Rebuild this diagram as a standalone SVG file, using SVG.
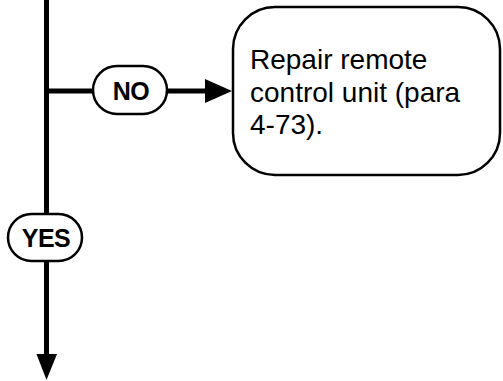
<svg xmlns="http://www.w3.org/2000/svg" width="503" height="381" viewBox="0 0 503 381">
<style>
.ln{stroke:#000;stroke-width:5;fill:none}
.pill{fill:#fff;stroke:#000;stroke-width:2.5}
.box{fill:#fff;stroke:#000;stroke-width:2.5}
.lbl{font-family:"Liberation Sans",Arial,sans-serif;font-weight:bold;font-size:25px;text-anchor:middle;fill:#000;letter-spacing:-0.5px}
.txt{font-family:"Liberation Sans",Arial,sans-serif;font-size:28px;fill:#000}
</style>
<rect width="503" height="381" fill="#fff"/>
<g id="connectors">
<line class="ln" x1="46.5" y1="0" x2="46.5" y2="356"/>
<polygon points="36.5,354 57,354 46.5,380" fill="#000"/>
<line class="ln" x1="46" y1="91" x2="207" y2="91"/>
<polygon points="205,79 232,91 205,103" fill="#000"/>
</g>
<g id="no">
<rect class="pill" x="93" y="66" width="74" height="48" rx="24"/>
<text class="lbl" x="131" y="100">NO</text>
</g>
<g id="yes">
<rect class="pill" x="8" y="214" width="74" height="47" rx="23.5"/>
<text class="lbl" x="46" y="247">YES</text>
</g>
<g id="repair">
<rect class="box" x="233" y="7" width="267" height="168" rx="42"/>
<text class="txt" x="250" y="69">Repair remote</text>
<text class="txt" x="250" y="102">control unit (para</text>
<text class="txt" x="250" y="134">4-73).</text>
</g>
</svg>
